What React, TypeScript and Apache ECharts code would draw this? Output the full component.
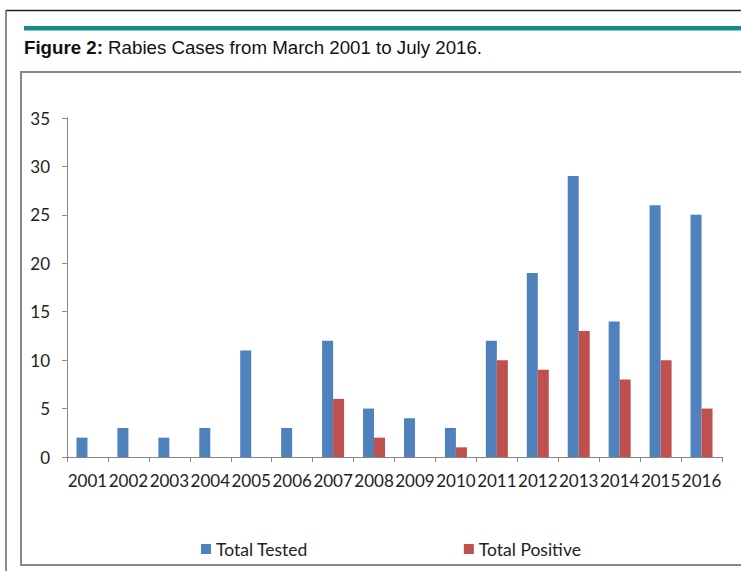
import React, { useEffect, useRef } from "react";
import * as echarts from "echarts";

const years = ["2001","2002","2003","2004","2005","2006","2007","2008","2009","2010","2011","2012","2013","2014","2015","2016"];
const totalTested = [2, 3, 2, 3, 11, 3, 12, 5, 4, 3, 12, 19, 29, 14, 26, 25];
const totalPositive = [0, 0, 0, 0, 0, 0, 6, 2, 0, 1, 10, 9, 13, 8, 10, 5];
const yTicks = { min: 0, max: 35, interval: 5 };

export default function App() {
  const ref = useRef<HTMLDivElement>(null);
  useEffect(() => {
    document.body.style.margin = "0";
    const chart = echarts.init(ref.current!, null, { renderer: "svg" });
    const font = "Lato";
    chart.setOption({
      animation: false,
      backgroundColor: "#ffffff",
      graphic: [
        { type: "line", shape: { x1: 6, y1: 10.5, x2: 741, y2: 10.5 }, style: { stroke: "#222", lineWidth: 1.5 }, z: 0 },
        { type: "line", shape: { x1: 6, y1: 10, x2: 6, y2: 571 }, style: { stroke: "#666", lineWidth: 1.5 }, z: 0 },
        { type: "rect", shape: { x: 24, y: 26, width: 717, height: 4.5 }, style: { fill: "#128b8e" }, z: 0 },
        {
          type: "text", x: 24, y: 47,
          style: {
            text: "{b|Figure 2:} Rabies Cases from March 2001 to July 2016.",
            fill: "#111", font: "18.7px 'Liberation Sans'", verticalAlign: "middle",
            rich: { b: { fontWeight: "bold", fontFamily: "Liberation Sans", fontSize: 18.7, fill: "#111" } },
          },
          z: 1,
        },
        { type: "rect", shape: { x: 21, y: 72, width: 740, height: 493 }, style: { fill: "none", stroke: "#888", lineWidth: 2 }, z: 0 },
      ],
      legend: {
        left: 201, top: 540, padding: 0, itemWidth: 10, itemHeight: 10, itemGap: 156, icon: "rect",
        textStyle: { fontFamily: font, fontSize: 17.5, color: "#222" },
        data: ["Total Tested", "Total Positive"],
      },
      grid: { left: 67, right: 19, top: 118, bottom: 114, containLabel: false },
      xAxis: {
        type: "category", data: years,
        axisLine: { lineStyle: { color: "#868686", width: 1 } },
        axisTick: { show: true, length: 5, lineStyle: { color: "#868686" } },
        axisLabel: { fontFamily: font, fontSize: 17, color: "#222", margin: 15, interval: 0 },
      },
      yAxis: {
        type: "value", min: yTicks.min, max: yTicks.max, interval: yTicks.interval,
        axisLine: { show: true, lineStyle: { color: "#868686", width: 1 } },
        axisTick: { show: true, length: 5, lineStyle: { color: "#868686" } },
        splitLine: { show: false },
        axisLabel: { fontFamily: font, fontSize: 17, color: "#222", margin: 17 },
      },
      series: [
        { name: "Total Tested", type: "bar", data: totalTested, barWidth: 11, barGap: "0%", itemStyle: { color: "#4f81bd" } },
        { name: "Total Positive", type: "bar", data: totalPositive, barWidth: 11, barGap: "0%", itemStyle: { color: "#c0504d" } },
      ],
    });
    return () => chart.dispose();
  }, []);
  return <div ref={ref} style={{ width: 741, height: 571 }} />;
}
